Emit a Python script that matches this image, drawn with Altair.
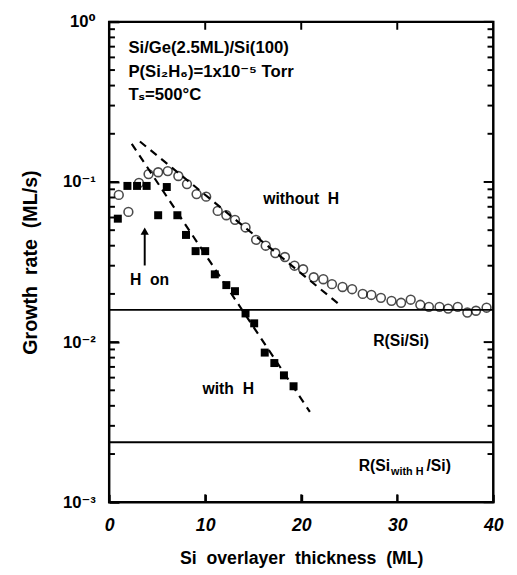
import altair as alt
import pandas as pd

# ---- data ----
# without H (open circles)
x_noH = [1.0, 2.0, 3.1, 4.1, 5.1, 6.1, 7.2, 8.1, 9.1, 10.1, 11.3, 12.2, 13.1, 14.2, 15.3,
         16.3, 17.3, 18.3, 19.3, 20.2, 21.3, 22.3, 23.2, 24.3, 25.3, 26.4, 27.3, 28.3,
         29.4, 30.4, 31.4, 32.4, 33.3, 34.4, 35.3, 36.3, 37.3, 38.2, 39.3]
y_noH = [0.083, 0.065, 0.0986, 0.112, 0.115, 0.117, 0.109, 0.097, 0.084, 0.081, 0.066,
         0.062, 0.058, 0.052, 0.0435, 0.040, 0.036, 0.034, 0.030, 0.0285, 0.0254, 0.0247,
         0.023, 0.0221, 0.0214, 0.020, 0.0197, 0.0189, 0.0181, 0.0176, 0.0184, 0.0171,
         0.0166, 0.0166, 0.0162, 0.0166, 0.0153, 0.0157, 0.0164]
# with H (filled squares)
x_H = [0.9, 1.9, 2.9, 3.9, 5.1, 6.0, 7.1, 8.0, 9.0, 10.0, 11.0, 12.2, 13.1, 14.2, 15.1,
       16.2, 17.2, 18.2, 19.2]
y_H = [0.059, 0.0945, 0.0945, 0.0945, 0.062, 0.093, 0.062, 0.0467, 0.037, 0.037, 0.0265,
       0.0227, 0.0208, 0.0151, 0.0131, 0.0086, 0.0074, 0.0062, 0.0053]
# dashed fit lines (end points)
fit_name = ["withH", "withH", "noH", "noH"]
fit_x = [2.35, 20.9, 3.2, 23.9]
fit_y = [0.173, 0.00367, 0.179, 0.0173]
# reference rates
ref_rates = [0.0159, 0.00237]
# arrow "H on"
arrow_x = [3.7, 3.7]
arrow_y = [0.0301, 0.049]
arrow_tip_y = [0.0493]

NB = "\u00a0"
header_text = ["Si/Ge(2.5ML)/Si(100)", "P(Si\u2082H\u2086)=1x10\u207b\u2075" + NB + "Torr",
               "T\u209b=500\u00b0C"]
header_x = [2.0, 2.0, 2.0]
header_y = [0.683, 0.486, 0.347]

label_text = ["without" + NB * 2 + "H", "with" + NB * 2 + "H", "H" + NB * 2 + "on", "R(Si/Si)"]
label_x = [20.0, 12.4, 4.2, 30.4]
label_y = [0.0787, 0.0051, 0.0244, 0.0101]

ref2_x = [31.1]
ref2_y = [0.00169]

maj_y = [0.001, 0.01, 0.1, 1]
min_y = [m * 10.0 ** k for k in (-3, -2, -1) for m in range(2, 10)]
x_ticks = [0, 10, 20, 30, 40]
x_inner_ticks = [10, 20, 30]

FONT = "Liberation Sans, Arial, DejaVu Sans"
INK = "#000000"
W, H = 391, 489
X_MIN, X_MAX = 0, 40
Y_MIN, Y_MAX = 0.001, 1.0
# inward tick lengths in data units
TL_MAJ, TL_MIN = 1.0, 0.6     # ML
TL_Y = 1.12                   # log factor

df_noH = pd.DataFrame({"x": x_noH, "y": y_noH})
df_H = pd.DataFrame({"x": x_H, "y": y_H})
df_fit = pd.DataFrame({"g": fit_name, "x": fit_x, "y": fit_y})
df_ref = pd.DataFrame({"y": ref_rates})
df_arrow = pd.DataFrame({"x": arrow_x, "y": arrow_y})
df_tip = pd.DataFrame({"x": arrow_x[:1], "y": arrow_tip_y})
df_head = pd.DataFrame({"x": header_x, "y": header_y, "t": header_text})
df_lab = pd.DataFrame({"x": label_x, "y": label_y, "t": label_text})
df_ref2 = pd.DataFrame({"x": ref2_x, "y": ref2_y})

ytick_rows = []
for v in maj_y:
    ytick_rows.append({"y": v, "xa": X_MIN, "xb": X_MIN + TL_MAJ})
    ytick_rows.append({"y": v, "xa": X_MAX - TL_MAJ, "xb": X_MAX})
for v in min_y:
    ytick_rows.append({"y": v, "xa": X_MIN, "xb": X_MIN + TL_MIN})
    ytick_rows.append({"y": v, "xa": X_MAX - TL_MIN, "xb": X_MAX})
df_yt = pd.DataFrame(ytick_rows)

xtick_rows = []
for v in x_inner_ticks:
    xtick_rows.append({"x": v, "ya": Y_MIN, "yb": Y_MIN * TL_Y})
    xtick_rows.append({"x": v, "ya": Y_MAX / TL_Y, "yb": Y_MAX})
df_xt = pd.DataFrame(xtick_rows)

xs = alt.Scale(domain=[X_MIN, X_MAX], nice=False, zero=False)
ys = alt.Scale(type="log", domain=[Y_MIN, Y_MAX], nice=False)

label_expr = ("datum.value >= 0.99 ? '10\u2070' : datum.value >= 0.099 ? '10\u207b\u00b9' : "
              "datum.value >= 0.0099 ? '10\u207b\u00b2' : '10\u207b\u00b3'")

common_ax = dict(domain=False, grid=False, tickWidth=2,
                 labelColor=INK, labelFont=FONT, labelFontWeight="bold",
                 labelOverlap=False, labelFlush=False)

x_bottom = alt.Axis(orient="bottom", values=x_ticks, tickSize=8, offset=-8, tickColor=INK,
                    labelFontSize=18, labelFontStyle="italic", labelPadding=15,
                    title="Si" + NB * 2 + "overlayer" + NB * 2 + "thickness" + NB * 2 + "(ML)",
                    titleFont=FONT, titleFontSize=18,
                    titleFontWeight="bold", titleColor=INK, titlePadding=15,
                    format="d", **common_ax)
y_left = alt.Axis(orient="left", values=maj_y, tickSize=10, offset=-10, tickColor=INK,
                  labelExpr=label_expr, labelFontSize=17, labelPadding=14,
                  title="Growth" + NB * 2 + "rate" + NB * 2 + "(ML/s)",
                  titleFont=FONT, titleFontSize=20, titleFontWeight="bold",
                  titleColor=INK, titlePadding=22, **common_ax)

NOAX_X = dict(scale=xs, axis=None)
NOAX_Y = dict(scale=ys, axis=None)

circles = alt.Chart(df_noH).mark_point(shape="circle", filled=False, color=INK,
                                        size=80, strokeWidth=1.6).encode(
    x=alt.X("x:Q", scale=xs, axis=x_bottom),
    y=alt.Y("y:Q", scale=ys, axis=y_left),
)
squares = alt.Chart(df_H).mark_square(color=INK, size=66, opacity=1).encode(
    x=alt.X("x:Q", **NOAX_X),
    y=alt.Y("y:Q", **NOAX_Y),
)
fits = alt.Chart(df_fit).mark_line(color=INK, strokeWidth=2.2, strokeDash=[8, 6]).encode(
    x=alt.X("x:Q", **NOAX_X),
    y=alt.Y("y:Q", **NOAX_Y),
    detail="g:N",
)
refs = alt.Chart(df_ref).mark_rule(color=INK, strokeWidth=2).encode(
    y=alt.Y("y:Q", **NOAX_Y),
)
# inward tick marks along the frame, drawn in data coordinates
yticks = alt.Chart(df_yt).mark_rule(color=INK, strokeWidth=2).encode(
    x=alt.X("xa:Q", **NOAX_X), x2=alt.X2("xb:Q"), y=alt.Y("y:Q", **NOAX_Y))
xticks = alt.Chart(df_xt).mark_rule(color=INK, strokeWidth=2).encode(
    x=alt.X("x:Q", **NOAX_X), y=alt.Y("ya:Q", **NOAX_Y), y2=alt.Y2("yb:Q"))

arrow = alt.Chart(df_arrow).mark_line(color=INK, strokeWidth=2).encode(
    x=alt.X("x:Q", **NOAX_X),
    y=alt.Y("y:Q", **NOAX_Y),
)
tip = alt.Chart(df_tip).mark_point(shape="triangle-up", filled=True, color=INK,
                                   size=70, opacity=1).encode(
    x=alt.X("x:Q", **NOAX_X),
    y=alt.Y("y:Q", **NOAX_Y),
)
head = alt.Chart(df_head).mark_text(align="left", baseline="middle", font=FONT,
                                    fontSize=17, fontWeight="bold", color=INK).encode(
    x=alt.X("x:Q", **NOAX_X),
    y=alt.Y("y:Q", **NOAX_Y),
    text="t:N",
)
labs = alt.Chart(df_lab).mark_text(align="center", baseline="middle", font=FONT,
                                   fontSize=16, fontWeight="bold", color=INK).encode(
    x=alt.X("x:Q", **NOAX_X),
    y=alt.Y("y:Q", **NOAX_Y),
    text="t:N",
)
ref2_a = alt.Chart(df_ref2).mark_text(align="right", baseline="middle", font=FONT,
                                      fontSize=16, fontWeight="bold", color=INK,
                                      dx=-18, text="R(Si").encode(
    x=alt.X("x:Q", **NOAX_X), y=alt.Y("y:Q", **NOAX_Y))
ref2_b = alt.Chart(df_ref2).mark_text(align="left", baseline="middle", font=FONT,
                                      fontSize=11, fontWeight="bold", color=INK,
                                      dx=-17, dy=6, text="with" + NB + "H").encode(
    x=alt.X("x:Q", **NOAX_X), y=alt.Y("y:Q", **NOAX_Y))
ref2_c = alt.Chart(df_ref2).mark_text(align="left", baseline="middle", font=FONT,
                                      fontSize=16, fontWeight="bold", color=INK,
                                      dx=19, text="/Si)").encode(
    x=alt.X("x:Q", **NOAX_X), y=alt.Y("y:Q", **NOAX_Y))

chart = alt.layer(
    circles, squares, fits, refs, yticks, xticks,
    arrow, tip, head, labs, ref2_a, ref2_b, ref2_c
).resolve_axis(x="independent", y="independent").properties(
    width=W, height=H,
    padding={"left": 13, "top": 0, "right": 5, "bottom": 5},
).configure_view(stroke=INK, strokeWidth=2.5)

chart.save("out.html", embed_options={"renderer": "svg", "actions": False})
